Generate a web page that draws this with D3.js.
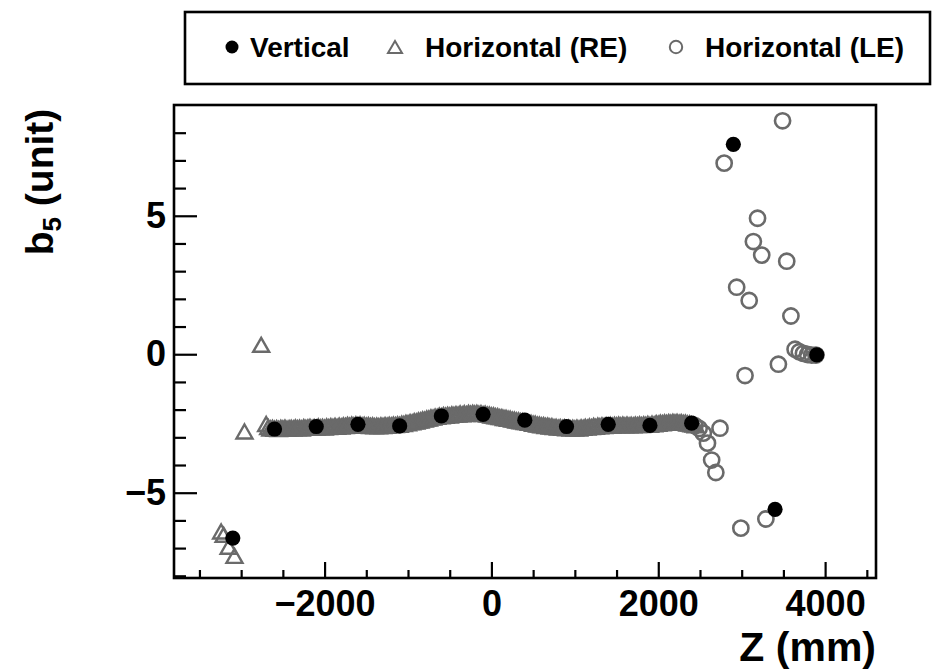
<!DOCTYPE html>
<html>
<head>
<meta charset="utf-8">
<script src="https://cdn.jsdelivr.net/npm/d3@7"></script>
<style>
  html, body { margin: 0; padding: 0; background: #fff; }
  svg text { font-family: "Liberation Sans", Arial, Helvetica, sans-serif; font-weight: bold; fill: #000; }
</style>
</head>
<body>
<svg id="chart" width="935" height="669"></svg>
<script>
// Vertical measurement: Z position (mm) and b5 (unit)
const verticalZ = [-3100, -2600, -2100, -1600, -1100, -600, -100, 400, 900, 1400, 1900, 2400, 2900, 3400, 3900];
const verticalB5 = [-6.64, -2.70, -2.61, -2.53, -2.59, -2.23, -2.17, -2.38, -2.61, -2.53, -2.57, -2.49, 7.58, -5.60, -0.02];

// Horizontal (RE) scan: isolated end points
const horizREEnds = [
  [-3240, -6.40], [-3210, -6.52], [-3150, -6.95], [-3080, -7.28], [-2960, -2.79], [-2760, 0.34]
];
// Horizontal (RE) scan through the body, [Z, b5]
const horizREBody = [
  [-2700,-2.52],[-2675,-2.63],[-2650,-2.68],[-2625,-2.66],[-2600,-2.69],[-2575,-2.67],[-2550,-2.70],[-2525,-2.66],
  [-2500,-2.68],[-2475,-2.65],[-2450,-2.69],[-2425,-2.67],[-2400,-2.66],[-2375,-2.68],[-2350,-2.64],[-2325,-2.67],
  [-2300,-2.65],[-2275,-2.68],[-2250,-2.63],[-2225,-2.66],[-2200,-2.64],[-2175,-2.62],[-2150,-2.66],[-2125,-2.63],
  [-2100,-2.65],[-2075,-2.61],[-2050,-2.64],[-2025,-2.62],[-2000,-2.65],[-1975,-2.61],[-1950,-2.63],[-1925,-2.60],
  [-1900,-2.62],[-1875,-2.59],[-1850,-2.62],[-1825,-2.58],[-1800,-2.61],[-1775,-2.57],[-1750,-2.59],[-1725,-2.55],
  [-1700,-2.58],[-1675,-2.54],[-1650,-2.57],[-1625,-2.53],[-1600,-2.56],[-1575,-2.53],[-1550,-2.57],[-1525,-2.55],
  [-1500,-2.58],[-1475,-2.56],[-1450,-2.59],[-1425,-2.57],[-1400,-2.60],[-1375,-2.58],[-1350,-2.60],[-1325,-2.57],
  [-1300,-2.59],[-1275,-2.56],[-1250,-2.58],[-1225,-2.55],[-1200,-2.57],[-1175,-2.54],[-1150,-2.56],[-1125,-2.53],
  [-1100,-2.55],[-1075,-2.51],[-1050,-2.52],[-1025,-2.48],[-1000,-2.49],[-975,-2.45],[-950,-2.46],[-925,-2.42],
  [-900,-2.43],[-875,-2.39],[-850,-2.39],[-825,-2.35],[-800,-2.36],[-775,-2.32],[-750,-2.32],[-725,-2.28],
  [-700,-2.29],[-675,-2.25],[-650,-2.26],[-625,-2.22],[-600,-2.24],[-575,-2.20],[-550,-2.22],[-525,-2.19],
  [-500,-2.21],[-475,-2.17],[-450,-2.19],[-425,-2.16],[-400,-2.18],[-375,-2.14],[-350,-2.17],[-325,-2.13],
  [-300,-2.16],[-275,-2.12],[-250,-2.15],[-225,-2.12],[-200,-2.14],[-175,-2.12],[-150,-2.15],[-125,-2.13],
  [-100,-2.16],[-75,-2.15],[-50,-2.18],[-25,-2.18],[0,-2.21],[25,-2.21],[50,-2.24],[75,-2.24],
  [100,-2.27],[125,-2.27],[150,-2.30],[175,-2.30],[200,-2.33],[225,-2.33],[250,-2.36],[275,-2.36],
  [300,-2.39],[325,-2.39],[350,-2.42],[375,-2.42],[400,-2.45],[425,-2.45],[450,-2.48],[475,-2.48],
  [500,-2.51],[525,-2.51],[550,-2.54],[575,-2.54],[600,-2.57],[625,-2.56],[650,-2.59],[675,-2.58],
  [700,-2.61],[725,-2.60],[750,-2.63],[775,-2.62],[800,-2.65],[825,-2.63],[850,-2.66],[875,-2.64],
  [900,-2.67],[925,-2.65],[950,-2.68],[975,-2.66],[1000,-2.68],[1025,-2.65],[1050,-2.68],[1075,-2.64],
  [1100,-2.66],[1125,-2.62],[1150,-2.65],[1175,-2.61],[1200,-2.63],[1225,-2.59],[1250,-2.62],[1275,-2.58],
  [1300,-2.60],[1325,-2.57],[1350,-2.59],[1375,-2.56],[1400,-2.58],[1425,-2.55],[1450,-2.58],[1475,-2.55],
  [1500,-2.57],[1525,-2.54],[1550,-2.57],[1575,-2.54],[1600,-2.57],[1625,-2.54],[1650,-2.57],[1675,-2.55],
  [1700,-2.57],[1725,-2.54],[1750,-2.56],[1775,-2.53],[1800,-2.56],[1825,-2.53],[1850,-2.55],[1875,-2.52],
  [1900,-2.55],[1925,-2.51],[1950,-2.53],[1975,-2.49],[2000,-2.51],[2025,-2.47],[2050,-2.49],[2075,-2.46],
  [2100,-2.48],[2125,-2.45],[2150,-2.47],[2175,-2.44],[2200,-2.46],[2225,-2.44],[2250,-2.47],[2275,-2.45],
  [2300,-2.48],[2325,-2.47],[2350,-2.50],[2375,-2.50],[2400,-2.53],[2425,-2.54],[2450,-2.57]
];

// Horizontal (LE) scan, [Z, b5]
const horizLE = [
  [2440,-2.58],[2490,-2.68],[2540,-2.85],[2590,-3.21],[2640,-3.82],[2690,-4.27],[2740,-2.67],[2790,6.90],
  [2940,2.42],[2990,-6.28],[3040,-0.77],[3090,1.94],[3140,4.07],[3190,4.91],[3240,3.58],[3290,-5.95],
  [3440,-0.36],[3490,8.43],[3540,3.36],[3590,1.38],[3640,0.18],[3690,0.09],[3740,0.03],[3790,-0.01],
  [3840,-0.03],[3890,-0.03]
];

const xMajorTicks = [-2000, 0, 2000, 4000];
const xMinorTicks = [-3500, -3000, -2500, -1500, -1000, -500, 500, 1000, 1500, 2500, 3000, 3500, 4500];
const yMajorTicks = [-5, 0, 5];
const yMinorTicks = [-8, -7, -6, -4, -3, -2, -1, 1, 2, 3, 4, 6, 7, 8];
const legendLabels = ["Vertical", "Horizontal (RE)", "Horizontal (LE)"];

const gray = "#6a6a6a";
const svg = d3.select("#chart");

const frame = { left: 174, right: 876, top: 105, bottom: 578 };
const x = d3.scaleLinear().domain([-3805, 4610]).range([frame.left, frame.right]);
const y = d3.scaleLinear().domain([-8.08, 9.0]).range([frame.bottom, frame.top]);

// open triangle centred on its bounding box
function triPath(w, h) {
  return `M0,${-h / 2}L${w / 2},${h / 2}L${-w / 2},${h / 2}Z`;
}

// ---- axes (ticks point into the frame) ----
const xAxisMajor = d3.axisBottom(x).tickValues(xMajorTicks).tickSizeInner(-16).tickSizeOuter(0)
  .tickPadding(12).tickFormat(d3.format("d"));
const xAxisMinor = d3.axisBottom(x).tickValues(xMinorTicks).tickSizeInner(-8).tickSizeOuter(0).tickFormat("");
const yAxisMajor = d3.axisLeft(y).tickValues(yMajorTicks).tickSizeInner(-23).tickSizeOuter(0)
  .tickPadding(8).tickFormat(d3.format("d"));
const yAxisMinor = d3.axisLeft(y).tickValues(yMinorTicks).tickSizeInner(-12).tickSizeOuter(0).tickFormat("");

function styleAxis(g, fontSize) {
  g.select(".domain").remove();
  g.selectAll(".tick line").attr("stroke", "#000").attr("stroke-width", 2.2);
  g.selectAll(".tick text").attr("font-size", fontSize).attr("fill", "#000")
    .attr("font-family", null).attr("font-weight", "bold");
}

svg.append("g").attr("transform", `translate(0,${frame.bottom})`).call(xAxisMinor).call(g => styleAxis(g, 0));
svg.append("g").attr("transform", `translate(0,${frame.bottom})`).call(xAxisMajor).call(g => styleAxis(g, 36));
svg.append("g").attr("transform", `translate(${frame.left},0)`).call(yAxisMinor).call(g => styleAxis(g, 0));
svg.append("g").attr("transform", `translate(${frame.left},0)`).call(yAxisMajor).call(g => styleAxis(g, 36));

// ---- markers ----
const plot = svg.append("g");

plot.selectAll("path.re")
  .data(horizREBody.concat(horizREEnds))
  .join("path")
  .attr("class", "re")
  .attr("d", triPath(16, 14))
  .attr("transform", d => `translate(${x(d[0])},${y(d[1])})`)
  .attr("fill", "none")
  .attr("stroke", gray)
  .attr("stroke-width", 2.4)
  .attr("stroke-linejoin", "miter");

plot.selectAll("circle.le")
  .data(horizLE)
  .join("circle")
  .attr("class", "le")
  .attr("cx", d => x(d[0]))
  .attr("cy", d => y(d[1]))
  .attr("r", 7.6)
  .attr("fill", "none")
  .attr("stroke", gray)
  .attr("stroke-width", 2.6);

plot.selectAll("circle.vert")
  .data(verticalZ.map((z, i) => [z, verticalB5[i]]))
  .join("circle")
  .attr("class", "vert")
  .attr("cx", d => x(d[0]))
  .attr("cy", d => y(d[1]))
  .attr("r", 7.6)
  .attr("fill", "#000");

// ---- frame ----
svg.append("rect")
  .attr("x", frame.left).attr("y", frame.top)
  .attr("width", frame.right - frame.left).attr("height", frame.bottom - frame.top)
  .attr("fill", "none").attr("stroke", "#000").attr("stroke-width", 2.6);

// ---- axis titles ----
svg.append("text")
  .attr("x", frame.right).attr("y", 661)
  .attr("text-anchor", "end").attr("font-size", 41)
  .text("Z (mm)");

const yTitle = svg.append("text")
  .attr("transform", "translate(53,182) rotate(-90)")
  .attr("text-anchor", "middle").attr("font-size", 39);
yTitle.append("tspan").text("b");
yTitle.append("tspan").attr("font-size", 26).attr("dy", 8).text("5");
yTitle.append("tspan").attr("dy", -8).text(" (unit)");

// ---- legend ----
const legend = svg.append("g");
legend.append("rect")
  .attr("x", 185).attr("y", 12).attr("width", 745).attr("height", 72)
  .attr("fill", "#fff").attr("stroke", "#000").attr("stroke-width", 2.6);

const legendX = [232, 395, 676];
const legendItems = legend.selectAll("g.item")
  .data(legendLabels)
  .join("g")
  .attr("class", "item")
  .attr("transform", (d, i) => `translate(${legendX[i]},47)`);

legendItems.each(function (d, i) {
  const g = d3.select(this);
  if (i === 0) {
    g.append("circle").attr("r", 6.5).attr("fill", "#000");
  } else if (i === 1) {
    g.append("path").attr("d", triPath(14, 12)).attr("fill", "none").attr("stroke", gray).attr("stroke-width", 2);
  } else {
    g.append("circle").attr("r", 6.2).attr("fill", "none").attr("stroke", gray).attr("stroke-width", 2);
  }
  g.append("text").attr("x", i === 1 ? 30 : (i === 0 ? 18 : 29)).attr("y", 10)
    .attr("font-size", 28).text(d);
});
</script>
</body>
</html>
